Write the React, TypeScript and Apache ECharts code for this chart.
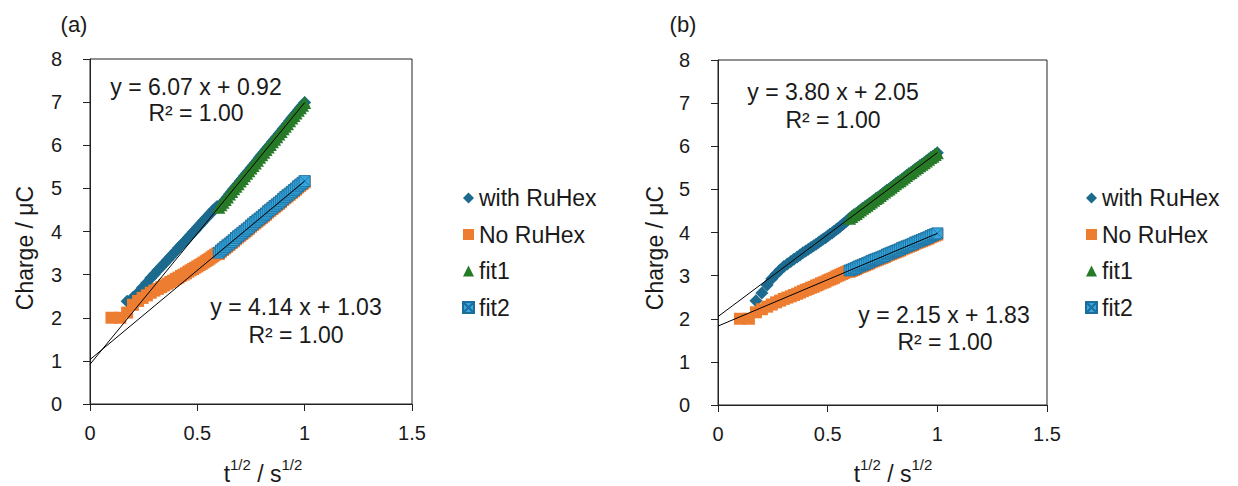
import React, { useEffect, useRef } from "react";
import * as echarts from "echarts";

// ---- data ----
const xRawOrange = [0.1, 0.141, 0.173, 0.2, 0.224, 0.245, 0.265, 0.283, 0.3, 0.316, 0.332, 0.346, 0.361, 0.374, 0.387, 0.4, 0.412, 0.424, 0.436, 0.447, 0.458, 0.469, 0.48, 0.49, 0.5, 0.51, 0.52, 0.529, 0.539, 0.548, 0.557, 0.566, 0.574, 0.583, 0.592];
const xRawBlue = [0.173, 0.2, 0.224, 0.245, 0.265, 0.283, 0.3, 0.316, 0.332, 0.346, 0.361, 0.374, 0.387, 0.4, 0.412, 0.424, 0.436, 0.447, 0.458, 0.469, 0.48, 0.49, 0.5, 0.51, 0.52, 0.529, 0.539, 0.548, 0.557, 0.566, 0.574, 0.583, 0.592];
const xFit = [0.6, 0.61, 0.62, 0.63, 0.64, 0.65, 0.66, 0.67, 0.68, 0.69, 0.7, 0.71, 0.72, 0.73, 0.74, 0.75, 0.76, 0.77, 0.78, 0.79, 0.8, 0.81, 0.82, 0.83, 0.84, 0.85, 0.86, 0.87, 0.88, 0.89, 0.9, 0.91, 0.92, 0.93, 0.94, 0.95, 0.96, 0.97, 0.98, 0.99, 1.0];

// panel (a)
const withRuHexA = [2.38, 2.47, 2.58, 2.7, 2.81, 2.92, 3.01, 3.1, 3.18, 3.26, 3.34, 3.41, 3.48, 3.55, 3.62, 3.68, 3.74, 3.8, 3.86, 3.92, 3.98, 4.03, 4.09, 4.14, 4.2, 4.25, 4.3, 4.35, 4.4, 4.44, 4.49, 4.53, 4.58];
const noRuHexA = [2.0, 2.0, 2.12, 2.3, 2.39, 2.46, 2.52, 2.58, 2.63, 2.67, 2.71, 2.75, 2.79, 2.83, 2.86, 2.9, 2.93, 2.97, 3.0, 3.03, 3.07, 3.1, 3.13, 3.16, 3.19, 3.22, 3.25, 3.28, 3.31, 3.34, 3.37, 3.4, 3.43, 3.46, 3.49];
const fit1A = [4.56, 4.62, 4.68, 4.74, 4.8, 4.87, 4.93, 4.99, 5.05, 5.11, 5.17, 5.23, 5.29, 5.35, 5.41, 5.47, 5.53, 5.59, 5.65, 5.72, 5.78, 5.84, 5.9, 5.96, 6.02, 6.08, 6.14, 6.2, 6.26, 6.32, 6.38, 6.44, 6.5, 6.57, 6.63, 6.69, 6.75, 6.81, 6.87, 6.93, 6.99];
const fit2A = [3.51, 3.56, 3.6, 3.64, 3.68, 3.72, 3.76, 3.8, 3.85, 3.89, 3.93, 3.97, 4.01, 4.05, 4.09, 4.14, 4.18, 4.22, 4.26, 4.3, 4.34, 4.38, 4.42, 4.47, 4.51, 4.55, 4.59, 4.63, 4.67, 4.71, 4.76, 4.8, 4.84, 4.88, 4.92, 4.96, 5.0, 5.05, 5.09, 5.13, 5.17];
const trend1A = [[0, 0.92], [1, 6.99]];
const trend2A = [[0, 1.03], [1, 5.17]];

// panel (b)
const withRuHexB = [2.42, 2.6, 2.78, 2.93, 3.04, 3.13, 3.21, 3.27, 3.33, 3.38, 3.43, 3.48, 3.53, 3.57, 3.61, 3.65, 3.69, 3.73, 3.77, 3.81, 3.85, 3.88, 3.92, 3.96, 3.99, 4.03, 4.07, 4.1, 4.14, 4.18, 4.21, 4.25, 4.29];
const noRuHexB = [2.0, 2.0, 2.15, 2.22, 2.28, 2.33, 2.38, 2.42, 2.46, 2.49, 2.52, 2.55, 2.58, 2.61, 2.64, 2.67, 2.69, 2.72, 2.74, 2.77, 2.79, 2.82, 2.84, 2.86, 2.89, 2.91, 2.93, 2.95, 2.98, 3.0, 3.02, 3.04, 3.06, 3.08, 3.1];
const fit1B = [4.33, 4.37, 4.41, 4.44, 4.48, 4.52, 4.56, 4.6, 4.63, 4.67, 4.71, 4.75, 4.79, 4.82, 4.86, 4.9, 4.94, 4.98, 5.01, 5.05, 5.09, 5.13, 5.17, 5.2, 5.24, 5.28, 5.32, 5.36, 5.39, 5.43, 5.47, 5.51, 5.55, 5.58, 5.62, 5.66, 5.7, 5.74, 5.77, 5.81, 5.85];
const fit2B = [3.12, 3.14, 3.16, 3.18, 3.21, 3.23, 3.25, 3.27, 3.29, 3.31, 3.34, 3.36, 3.38, 3.4, 3.42, 3.44, 3.46, 3.49, 3.51, 3.53, 3.55, 3.57, 3.59, 3.61, 3.64, 3.66, 3.68, 3.7, 3.72, 3.74, 3.77, 3.79, 3.81, 3.83, 3.85, 3.87, 3.89, 3.92, 3.94, 3.96, 3.98];
const trend1B = [[0, 2.05], [1, 5.85]];
const trend2B = [[0, 1.83], [1, 3.98]];

const seriesNames = ["with RuHex", "No RuHex", "fit1", "fit2"];
const equationsA = ["y = 6.07 x + 0.92", "y = 4.14 x + 1.03"];
const equationsB = ["y = 3.80 x + 2.05", "y = 2.15 x + 1.83"];
const r2Text = "R² = 1.00";
const panelLabels = ["(a)", "(b)"];
const yAxisTitle = "Charge / μC";

const FONT = "Liberation Sans, Arial, sans-serif";
const C_BLUE = "#1c6a8e";
const C_ORANGE = "#ed7d31";
const C_GREEN = "#277a27";
const C_LBLUE = "#35a7de";
const C_LBLUE_EDGE = "#1d6d9c";
const TXT = "#1a1a1a";
const FIT2_SYMBOL = "path://M0,0L10,0L10,10L0,10Z M0,0L10,10 M10,0L0,10";

const zip = (xs: number[], ys: number[]) => xs.map((x, i) => [x, ys[i]]);

function panelSeries(idx: number, blue: number[], orange: number[], f1: number[], f2: number[], t1: number[][], t2: number[][]) {
  return [
    {
      name: seriesNames[0], type: "scatter", xAxisIndex: idx, yAxisIndex: idx,
      symbol: "diamond", symbolSize: 13, itemStyle: { color: C_BLUE, opacity: 1 },
      data: zip(xRawBlue, blue).concat(zip(xFit, f1)),
    },
    {
      name: seriesNames[1], type: "scatter", xAxisIndex: idx, yAxisIndex: idx,
      symbol: "rect", symbolSize: 12, itemStyle: { color: C_ORANGE, opacity: 1 },
      data: zip(xRawOrange, orange).concat(zip(xFit, f2.map((v) => v - 0.03))),
    },
    {
      name: seriesNames[2], type: "scatter", xAxisIndex: idx, yAxisIndex: idx,
      symbol: "triangle", symbolSize: 13, itemStyle: { color: C_GREEN, opacity: 1 },
      data: zip(xFit, f1),
    },
    {
      name: seriesNames[3], type: "scatter", xAxisIndex: idx, yAxisIndex: idx,
      symbol: FIT2_SYMBOL, symbolSize: 11,
      itemStyle: { color: C_LBLUE, borderColor: C_LBLUE_EDGE, borderWidth: 0.8, opacity: 1 },
      data: zip(xFit, f2),
    },
    {
      type: "line", xAxisIndex: idx, yAxisIndex: idx, symbol: "none", silent: true,
      lineStyle: { color: "#000", width: 1 }, data: t1, z: 5,
    },
    {
      type: "line", xAxisIndex: idx, yAxisIndex: idx, symbol: "none", silent: true,
      lineStyle: { color: "#000", width: 1 }, data: t2, z: 5,
    },
  ];
}

const axisLine = { show: true, lineStyle: { color: "#222", width: 1 } };

function xAxis(idx: number) {
  return {
    type: "value", gridIndex: idx, min: 0, max: 1.5, interval: 0.5,
    axisLine, axisTick: { show: true, length: 7, lineStyle: { color: "#222" } },
    axisLabel: { fontSize: 20, fontFamily: FONT, color: TXT, margin: 19 },
    splitLine: { show: false },
  };
}
function yAxis(idx: number) {
  return {
    type: "value", gridIndex: idx, min: 0, max: 8, interval: 1,
    axisLine, axisTick: { show: true, length: 7, lineStyle: { color: "#222" } },
    axisLabel: { fontSize: 20, fontFamily: FONT, color: TXT, margin: 28 },
    splitLine: { show: false },
  };
}

function legend(left: number) {
  return {
    orient: "vertical", left, top: 181, itemGap: 12.5, itemWidth: 11, itemHeight: 11,
    textStyle: { fontSize: 23, fontFamily: FONT, color: TXT, lineHeight: 24 },
    data: [
      { name: seriesNames[0], icon: "diamond" },
      { name: seriesNames[1], icon: "rect" },
      { name: seriesNames[2], icon: "triangle" },
      { name: seriesNames[3], icon: FIT2_SYMBOL },
    ],
  };
}

function txt(text: string, x: number, y: number, size = 23, rotation = 0) {
  return {
    type: "text", x, y, rotation, silent: true,
    style: { text, fontSize: size, fontFamily: FONT, fill: TXT, align: "center", verticalAlign: "middle" },
  };
}

function xTitle(x: number) {
  return {
    type: "text", x, y: 474, silent: true,
    style: {
      text: "{n|t}{s|1/2}{n| / s}{s|1/2}",
      align: "center", verticalAlign: "middle", fill: TXT, fontFamily: FONT,
      rich: {
        n: { fontSize: 23, lineHeight: 34, fontFamily: FONT, fill: TXT },
        s: { fontSize: 15, lineHeight: 13, verticalAlign: "top", fontFamily: FONT, fill: TXT },
      },
    },
  };
}

export default function App() {
  const ref = useRef<HTMLDivElement>(null);
  useEffect(() => {
    if (!ref.current) return;
    const chart = echarts.init(ref.current, undefined, { renderer: "svg" });
    chart.setOption({
      animation: false,
      backgroundColor: "#fff",
      grid: [
        { left: 90, top: 59, width: 322, height: 345, show: true, borderColor: "#222", borderWidth: 1, backgroundColor: "transparent" },
        { left: 718, top: 60, width: 329, height: 345, show: true, borderColor: "#222", borderWidth: 1, backgroundColor: "transparent" },
      ],
      xAxis: [xAxis(0), xAxis(1)],
      yAxis: [yAxis(0), yAxis(1)],
      legend: [legend(457), legend(1080)],
      series: [
        ...panelSeries(0, withRuHexA, noRuHexA, fit1A, fit2A, trend1A, trend2A),
        ...panelSeries(1, withRuHexB, noRuHexB, fit1B, fit2B, trend1B, trend2B),
      ],
      graphic: [
        txt(panelLabels[0], 74, 24, 22),
        txt(panelLabels[1], 683, 24, 22),
        txt(yAxisTitle, 25, 248, 23, Math.PI / 2),
        txt(yAxisTitle, 655, 248, 23, Math.PI / 2),
        xTitle(263),
        xTitle(893),
        txt(equationsA[0], 196, 87),
        txt(r2Text, 196, 113),
        txt(equationsA[1], 296, 307),
        txt(r2Text, 296, 335),
        txt(equationsB[0], 833, 92),
        txt(r2Text, 833, 120),
        txt(equationsB[1], 944, 315),
        txt(r2Text, 945, 342),
      ],
    });
    return () => chart.dispose();
  }, []);
  return <div ref={ref} style={{ position: "fixed", left: 0, top: 0, width: 1238, height: 486 }} />;
}
